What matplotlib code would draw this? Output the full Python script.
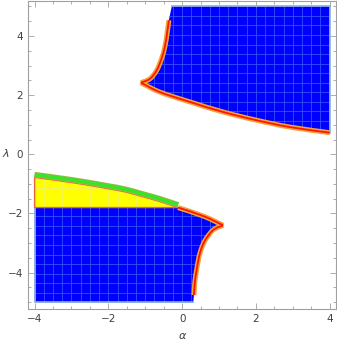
import numpy as np
import matplotlib
matplotlib.use("Agg")
import matplotlib.pyplot as plt
from matplotlib.patches import PathPatch
from matplotlib.path import Path
import matplotlib.patheffects as pe

# ---- data ----
ALPHA_MIN, ALPHA_MAX = -4.0, 4.0
LAMBDA_MIN, LAMBDA_MAX = -5.0, 5.0

# upper region (blue): left boundary from cusp up to top
A_upper_alpha = [-1.12, -0.875, -0.69, -0.56, -0.47, -0.41, -0.36, -0.28]
A_upper_lambda = [2.42, 2.55, 2.84, 3.23, 3.63, 4.08, 4.53, 5.0]
# upper region: lower boundary from cusp to right edge
A_lower_alpha = [-1.12, -0.60, 0.21, 1.11, 2.02, 2.92, 4.0]
A_lower_lambda = [2.42, 2.10, 1.77, 1.43, 1.15, 0.92, 0.73]

# lower region (blue): right boundary from cusp down to bottom
B_lower_alpha = [1.11, 0.85, 0.62, 0.48, 0.39, 0.34, 0.32, 0.30]
B_lower_lambda = [-2.40, -2.55, -2.91, -3.35, -3.92, -4.37, -4.76, -5.0]
# lower region: upper boundary from left edge to cusp
B_upper_alpha = [-4.0, -2.91, -2.02, -1.55, -1.11, -0.65, -0.11, 0.60, 1.11]
B_upper_lambda = [-0.78, -0.97, -1.16, -1.27, -1.42, -1.58, -1.80, -2.10, -2.40]

# yellow sub-region floor
yellow_floor = -1.8

x_ticks = [-4, -2, 0, 2, 4]
y_ticks = [-4, -2, 0, 2, 4]

# ---- styles ----
BLUE = "#0000ff"
MESH = "#3050ff"
EDGE = "#8fb0e0"
ORANGE = "#f2a23a"
RED = "#ff1500"
YELLOW = "#ffff00"
GREEN = "#3ee02a"


def smooth_segs(xs, ys):
    """Catmull-Rom curve through the given points as cubic Bezier segments
    (vertices/codes after the first point)."""
    P = np.column_stack([xs, ys]).astype(float)
    n = len(P)
    verts, codes = [], []
    for i in range(n - 1):
        p0 = P[i - 1] if i > 0 else P[i]
        p1, p2 = P[i], P[i + 1]
        p3 = P[i + 2] if i + 2 < n else P[i + 1]
        c1 = p1 + (p2 - p0) / 6.0
        c2 = p2 - (p3 - p1) / 6.0
        verts += [tuple(c1), tuple(c2), tuple(p2)]
        codes += [Path.CURVE4] * 3
    return verts, codes


def open_path(xs, ys):
    v, c = smooth_segs(xs, ys)
    return Path([(xs[0], ys[0])] + v, [Path.MOVETO] + c)


fig = plt.figure(figsize=(3.37, 3.43), dpi=100)
ax = fig.add_axes([0.083, 0.099, 0.914, 0.898])

Au_a, Au_l = np.array(A_upper_alpha), np.array(A_upper_lambda)
Al_a, Al_l = np.array(A_lower_alpha), np.array(A_lower_lambda)
Bl_a, Bl_l = np.array(B_lower_alpha), np.array(B_lower_lambda)
Bu_a, Bu_l = np.array(B_upper_alpha), np.array(B_upper_lambda)

# region A path
verts = [(Au_a[0], Au_l[0])]
codes = [Path.MOVETO]
v, c = smooth_segs(Au_a, Au_l); verts += v; codes += c
verts += [(ALPHA_MAX, LAMBDA_MAX), (Al_a[-1], Al_l[-1])]; codes += [Path.LINETO, Path.LINETO]
v, c = smooth_segs(Al_a[::-1], Al_l[::-1]); verts += v; codes += c
verts += [(0, 0)]; codes += [Path.CLOSEPOLY]
polyA = PathPatch(Path(verts, codes), facecolor=BLUE, edgecolor="none", zorder=1)
ax.add_patch(polyA)

# region B path
verts = [(ALPHA_MIN, LAMBDA_MIN), (Bl_a[-1], Bl_l[-1])]
codes = [Path.MOVETO, Path.LINETO]
v, c = smooth_segs(Bl_a[::-1], Bl_l[::-1]); verts += v; codes += c
v, c = smooth_segs(Bu_a[::-1], Bu_l[::-1]); verts += v; codes += c
verts += [(0, 0)]; codes += [Path.CLOSEPOLY]
polyB = PathPatch(Path(verts, codes), facecolor=BLUE, edgecolor="none", zorder=1)
ax.add_patch(polyB)

# yellow region
mask = Bu_l >= yellow_floor - 1e-9
ya, yl = Bu_a[mask], Bu_l[mask]
verts = [(ya[0], yl[0])]
codes = [Path.MOVETO]
v, c = smooth_segs(ya, yl); verts += v; codes += c
verts += [(ya[-1], yellow_floor), (ALPHA_MIN, yellow_floor), (0, 0)]
codes += [Path.LINETO, Path.LINETO, Path.CLOSEPOLY]
yellow_path = Path(verts, codes)
polyY = PathPatch(yellow_path, facecolor=YELLOW, edgecolor="none", zorder=2)
ax.add_patch(polyY)

# mesh lines (styling)
for poly, col, z in [(polyA, MESH, 1.5), (polyB, MESH, 1.5), (polyY, "#f2f25a", 2.5)]:
    for xv in np.arange(ALPHA_MIN, ALPHA_MAX + 0.01, 0.25):
        ln, = ax.plot([xv, xv], [LAMBDA_MIN, LAMBDA_MAX], color=col, lw=0.6, zorder=z)
        ln.set_clip_path(poly)
    for yv in np.linspace(LAMBDA_MIN, LAMBDA_MAX, 32):
        ln, = ax.plot([ALPHA_MIN, ALPHA_MAX], [yv, yv], color=col, lw=0.6, zorder=z)
        ln.set_clip_path(poly)

# straight edges (light blue)
ax.plot([Au_a[-1], ALPHA_MAX, ALPHA_MAX], [LAMBDA_MAX, LAMBDA_MAX, Al_l[-1]], color=EDGE, lw=1.2, zorder=3)
ax.plot([ALPHA_MIN, ALPHA_MIN, Bl_a[-1]], [yellow_floor, LAMBDA_MIN, LAMBDA_MIN], color=EDGE, lw=1.2, zorder=3)


def band(path):
    ax.add_patch(PathPatch(path, facecolor="none", edgecolor=ORANGE, lw=3.6,
                           capstyle="butt", joinstyle="round", zorder=4))
    ax.add_patch(PathPatch(path, facecolor="none", edgecolor=RED, lw=1.3,
                           capstyle="butt", joinstyle="round", zorder=5))


band(open_path(Au_a[:-1], Au_l[:-1]))
band(open_path(Al_a, Al_l))
band(open_path(Bl_a[:-1], Bl_l[:-1]))
sel = Bu_a >= ya[-1]
band(open_path(Bu_a[sel], Bu_l[sel]))

# yellow border
ax.add_patch(PathPatch(yellow_path, facecolor="none", edgecolor="#ee6040", lw=1.0, zorder=5))

# green band above yellow top
gpath = open_path(ya, yl)
ax.add_patch(PathPatch(gpath, facecolor="none", edgecolor=GREEN, lw=3.0, capstyle="butt", zorder=6,
                       path_effects=[pe.Stroke(linewidth=4.0, foreground="#b8b050", offset=(0, 2.0)),
                                     pe.Stroke(linewidth=3.0, foreground=GREEN, offset=(0, 2.0))]))

ax.set_xlim(-4.18, 4.17)
ax.set_ylim(-5.23, 5.18)

ax.set_xticks(x_ticks)
ax.set_yticks(y_ticks)
ax.set_xticklabels(["\u22124", "\u22122", "0", "2", "4"])
ax.set_yticklabels(["\u22124", "\u22122", "0", "2", "4"])
ax.set_xticks(np.arange(-4, 4.01, 0.5), minor=True)
ax.set_yticks(np.arange(-5, 5.01, 0.5), minor=True)
ax.tick_params(which="both", direction="in", top=True, right=True, color="#a0a0a0",
               labelsize=7.5, labelcolor="#404040", width=0.6)
ax.tick_params(which="major", length=4, pad=3.5)
ax.tick_params(which="minor", length=2)
for s in ax.spines.values():
    s.set_color("#a0a0a0")
    s.set_linewidth(0.8)

fig.text(182 / 337, 1 - 336 / 343, "\u03b1", ha="center", va="center", fontsize=8,
         style="italic", color="#404040")
fig.text(6 / 337, 1 - 154 / 343, "\u03bb", ha="center", va="center", fontsize=8,
         style="italic", color="#404040")

fig.savefig("out.png", dpi=100)
